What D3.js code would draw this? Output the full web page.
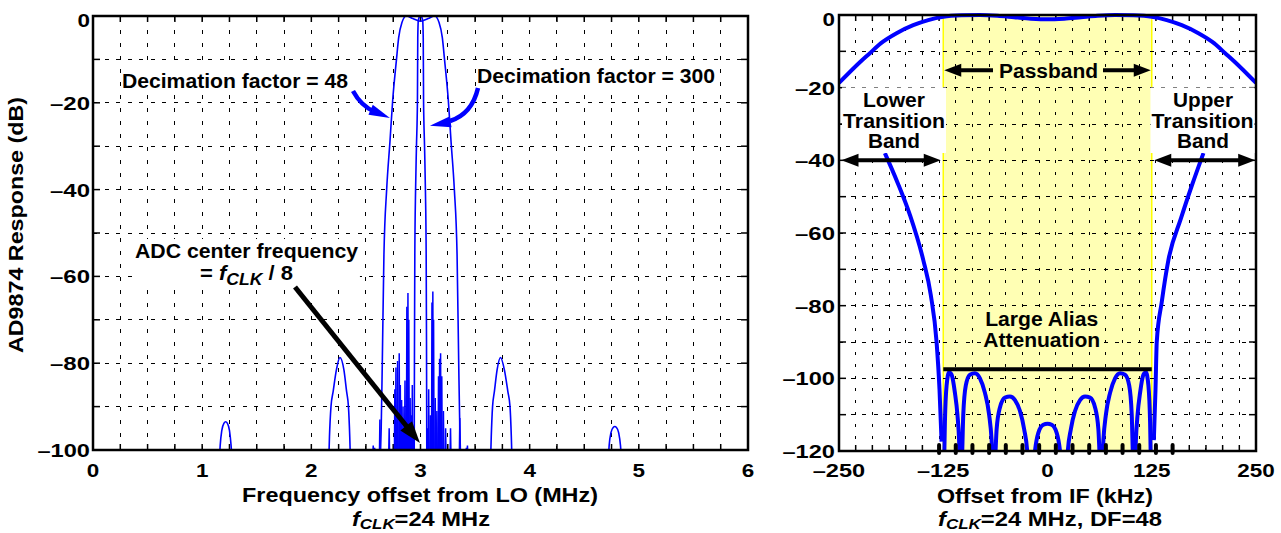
<!DOCTYPE html>
<html>
<head>
<meta charset="utf-8">
<script src="https://d3js.org/d3.v7.min.js"></script>
<style>
  body { margin: 0; background: #fff; }
  svg text { font-family: "Liberation Sans", Arial, Helvetica, sans-serif; font-weight: bold; fill: #000; }
</style>
</head>
<body>
<svg id="chart" width="1281" height="533"></svg>
<script>
// ---- left panel: full response for DF=48 and DF=300 (MHz, dB)
const leftXTicks = [0, 1, 2, 3, 4, 5, 6];
const leftYTicks = [0, -20, -40, -60, -80, -100];

const df48Lobe = [
  [2.63, -104], [2.64, -95], [2.65, -80], [2.665, -55], [2.69, -40], [2.72, -29], [2.745, -19.5],
  [2.78, -10], [2.80, -5], [2.83, -1.5], [2.87, 0], [2.93, -0.6], [3.0, -1.2], [3.07, -0.6],
  [3.13, 0], [3.17, -1.5], [3.20, -5], [3.22, -10], [3.255, -19.5], [3.28, -29], [3.31, -40],
  [3.335, -55], [3.35, -80], [3.36, -95], [3.37, -104]
];
const df300Lobe = [
  [2.942, -104], [2.945, -75], [2.948, -55], [2.955, -40], [2.963, -30], [2.972, -19.4],
  [2.975, -5], [2.98, -1], [2.99, -0.2], [3.0, 0], [3.01, -0.2], [3.02, -1], [3.025, -5],
  [3.028, -19.4], [3.037, -30], [3.045, -40], [3.052, -55], [3.055, -75], [3.058, -104]
];
const sideLobes = [
  [[1.155, -104], [1.165, -99], [1.18, -95.5], [1.2, -93.8], [1.215, -93.5], [1.23, -93.8], [1.25, -95.5], [1.265, -99], [1.277, -104]],
  [[2.158, -104], [2.166, -97], [2.18, -90], [2.2, -86.5], [2.23, -81.5], [2.262, -78.7], [2.298, -81.5], [2.323, -86.5], [2.34, -90], [2.352, -97], [2.36, -104]],
  [[3.64, -104], [3.648, -97], [3.66, -90], [3.677, -86.5], [3.702, -81.5], [3.733, -78.7], [3.768, -81.5], [3.8, -86.5], [3.82, -90], [3.832, -97], [3.84, -104]],
  [[4.718, -104], [4.728, -99], [4.745, -96], [4.765, -94.8], [4.78, -94.6], [4.795, -94.8], [4.815, -96], [4.832, -99], [4.845, -104]]
];
// alias spurs between the lobes: [MHz, peak dB]
const spurs = [
  [2.567, -99], [2.58, -99.5], [2.628, -93], [2.713, -95], [2.765, -86], [2.775, -81], [2.79, -79.5],
  [2.805, -77.7], [2.815, -85], [2.827, -88.5], [2.84, -90], [2.858, -84], [2.875, -67], [2.885, -63.8],
  [2.893, -70], [2.905, -88], [2.915, -92], [2.925, -85], [2.935, -95],
  [3.065, -95], [3.075, -86], [3.09, -92], [3.105, -66], [3.113, -63.5], [3.12, -70], [3.135, -88],
  [3.15, -91], [3.165, -83], [3.175, -79], [3.184, -77.7], [3.195, -83], [3.21, -91], [3.23, -95],
  [3.275, -95], [3.36, -92.6], [3.42, -99.5], [3.43, -99]
];

// ---- right panel: zoom around IF, DF=48 (kHz, dB)
const rightXTicks = [-250, -125, 0, 125, 250];
const rightYTicks = [0, -20, -40, -60, -80, -100, -120];
const passbandResp = [
  [-250, -18.7], [-225, -13], [-213, -10.5], [-200, -7.8], [-181, -5], [-161, -2.8], [-143, -1.4],
  [-125, -0.5], [-103, -0.1], [-81, 0], [-60, -0.2], [-40, -0.6], [-20, -1.0], [0, -1.2],
  [20, -1.0], [40, -0.6], [60, -0.2], [81, 0], [103, -0.1], [125, -0.5], [143, -1.4], [161, -2.8],
  [181, -5], [200, -7.8], [213, -10.5], [225, -13], [250, -18.7]
];
const aliasLeftSkirt = [
  [-195, -38], [-180, -46], [-165, -55], [-149, -67.4], [-140, -77], [-133, -90], [-129.5, -103], [-127, -117.4]
];
const aliasRightSkirt = [
  [127.5, -117], [129.5, -103], [131, -90], [137, -79], [145, -67.4], [160, -56], [173, -47], [187, -38]
];
const aliasLobes = [
  [-124, -124], [-123, -112], [-121, -102], [-118, -98.3], [-115, -99], [-111, -104], [-108, -110], [-106, -117], [-105, -124],
  [-103, -124], [-101, -110], [-98, -102], [-93, -99], [-87, -98.6], [-81, -100], [-75, -104], [-70, -110], [-67, -117], [-65.5, -124],
  [-63.5, -124], [-61, -114], [-57, -108], [-51, -105.3], [-45, -105], [-39, -106], [-33, -109], [-28, -114], [-24, -121], [-23, -125],
  [-17, -125], [-15, -120], [-11, -115], [-5, -112.8], [0, -112.5], [5, -112.8], [11, -115], [15, -120], [17, -125],
  [23, -125], [24, -121], [28, -114], [33, -109], [39, -106], [45, -105], [51, -105.3], [57, -108], [61, -114], [63.5, -124],
  [65.5, -124], [67, -117], [70, -110], [75, -104], [81, -100], [87, -98.6], [93, -99], [98, -102], [101, -110], [103, -124],
  [105, -124], [106, -117], [108, -110], [111, -104], [115, -99], [118, -98.3], [121, -102], [123, -112], [124, -124]
];
const passband = [-125, 125];
const aliasLevel = -97.5;
const boldTicks = d3.range(-130, 151, 20); // heavy tick marks on the bottom axis

const BLUE = '#0000ff';
const svg = d3.select('#chart');

const xL = d3.scaleLinear().domain([0, 6]).range([93, 748]);
const yL = d3.scaleLinear().domain([-100, 0]).range([450, 16]);
const xR = d3.scaleLinear().domain([-250, 250]).range([839, 1256]);
const yR = d3.scaleLinear().domain([-120, 0]).range([451, 15]);

function txt(g, x, y, s, o = {}) {
  const t = g.append('text')
    .attr('x', x).attr('y', y)
    .attr('font-size', o.size || 19)
    .attr('text-anchor', o.anchor || 'middle')
    .text(s);
  if (o.w) t.attr('textLength', o.w).attr('lengthAdjust', 'spacingAndGlyphs');
  if (o.rotate) t.attr('transform', `rotate(-90,${x},${y})`);
  return t;
}

// tick label text: wide dash for negatives, width matched to the original lettering
const fmt = v => (v < 0 ? '\u2013' : '') + Math.abs(v);
const tickW = v => String(Math.abs(v)).length * 12.5 + (v < 0 ? 15 : 0);

// background box behind a group of text lines
function box(g, texts, fill, pad = 2) {
  const bb = texts.map(t => t.node().getBBox());
  const x0 = d3.min(bb, b => b.x) - pad, x1 = d3.max(bb, b => b.x + b.width) + pad;
  const y0 = d3.min(bb, b => b.y) - pad, y1 = d3.max(bb, b => b.y + b.height) + pad;
  g.insert('rect', 'text').attr('x', x0).attr('y', y0).attr('width', x1 - x0).attr('height', y1 - y0).attr('fill', fill);
}

function head(g, x1, y1, x2, y2, len, w, color) {
  const a = Math.atan2(y2 - y1, x2 - x1);
  const bx = x2 - len * Math.cos(a), by = y2 - len * Math.sin(a);
  const px = -Math.sin(a) * w / 2, py = Math.cos(a) * w / 2;
  g.append('path')
    .attr('d', `M${x2},${y2}L${bx + px},${by + py}L${bx - px},${by - py}Z`)
    .attr('fill', color);
}

function panel(x, y, xGrid, yGrid, clipId, dashV, dashH) {
  const g = svg.append('g');
  const [xa, xb] = x.range(), [ya, yb] = y.range();
  svg.append('clipPath').attr('id', clipId)
    .append('rect').attr('x', xa).attr('y', yb - 3).attr('width', xb - xa).attr('height', ya - yb + 3);
  g.append('g').attr('class', 'under');
  const grid = g.append('g').attr('stroke', '#000').attr('stroke-width', 1).attr('shape-rendering', 'crispEdges');
  grid.selectAll('.gv').data(xGrid).join('line')
    .attr('x1', d => x(d)).attr('x2', d => x(d)).attr('y1', ya).attr('y2', yb)
    .attr('stroke-dasharray', dashV);
  grid.selectAll('.gh').data(yGrid).join('line')
    .attr('x1', xa).attr('x2', xb).attr('y1', d => y(d)).attr('y2', d => y(d))
    .attr('stroke-dasharray', dashH);
  const ticks = g.append('g').attr('stroke', '#000').attr('stroke-width', 1.5);
  xGrid.forEach(d => {
    ticks.append('line').attr('x1', x(d)).attr('x2', x(d)).attr('y1', ya).attr('y2', ya - 6);
    ticks.append('line').attr('x1', x(d)).attr('x2', x(d)).attr('y1', yb).attr('y2', yb + 6);
  });
  yGrid.forEach(d => {
    ticks.append('line').attr('x1', xa).attr('x2', xa + 7).attr('y1', y(d)).attr('y2', y(d));
    ticks.append('line').attr('x1', xb).attr('x2', xb - 7).attr('y1', y(d)).attr('y2', y(d));
  });
  const plot = g.append('g').attr('clip-path', `url(#${clipId})`);
  g.append('rect').attr('x', xa).attr('y', yb).attr('width', xb - xa).attr('height', ya - yb)
    .attr('fill', 'none').attr('stroke', '#000').attr('stroke-width', 2.5);
  return { g, plot, under: g.select('.under') };
}

function fclk(g, x, y, rest, w) {
  const t = g.append('text').attr('x', x).attr('y', y).attr('text-anchor', 'middle').attr('font-size', 21);
  t.append('tspan').attr('font-style', 'italic').text('f');
  t.append('tspan').attr('font-style', 'italic').attr('font-size', 15).attr('dy', 3).text('CLK');
  t.append('tspan').attr('dy', -3).text(rest);
  t.attr('textLength', w).attr('lengthAdjust', 'spacingAndGlyphs');
  return t;
}

// ================= left panel =================
const L = panel(xL, yL, d3.range(0.25, 6, 0.25), d3.range(-90, 0, 10), 'clipL', '4,9', '4,7.5');
const lineL = d3.line().x(d => xL(d[0])).y(d => yL(d[1])).curve(d3.curveMonotoneX);

[df48Lobe, df300Lobe, ...sideLobes].forEach(s => {
  L.plot.append('path').attr('d', lineL(s)).attr('fill', 'none').attr('stroke', BLUE).attr('stroke-width', 1.6);
});
L.plot.selectAll('.spur').data(spurs).join('path')
  .attr('d', d => d3.line()([[xL(d[0] - 0.004), yL(-101)], [xL(d[0]), yL(d[1])], [xL(d[0] + 0.004), yL(-101)]]))
  .attr('fill', BLUE).attr('stroke', BLUE).attr('stroke-width', 1.5);

const axL = svg.append('g');
leftXTicks.forEach(t => txt(axL, xL(t), 477, fmt(t), { size: 19, w: tickW(t) }));
leftYTicks.forEach(t => txt(axL, 90, Math.max(yL(t), 20) + 7, fmt(t), { size: 19, anchor: 'end', w: tickW(t) }));
txt(axL, 23, 225, 'AD9874 Response (dB)', { size: 21, w: 256, rotate: true });
txt(axL, 420, 502, 'Frequency offset from LO (MHz)', { size: 21, w: 356 });
fclk(axL, 421, 526, '=24 MHz', 138);

// annotations, left
const annL = svg.append('g');
const d48 = txt(annL, 235, 88, 'Decimation factor = 48', { size: 20, w: 226 });
box(annL, [d48], '#fff', 1);
const d300 = txt(annL, 596, 83, 'Decimation factor = 300', { size: 20, w: 238 });
box(annL, [d300], '#fff', 1);

const adc = svg.append('g');
const adc1 = txt(adc, 246.5, 258, 'ADC center frequency', { size: 20, w: 223 });
const adc2 = adc.append('text').attr('x', 200).attr('y', 280).attr('font-size', 20);
adc2.append('tspan').text('= ');
adc2.append('tspan').attr('font-style', 'italic').attr('font-size', 20).text('f');
adc2.append('tspan').attr('font-style', 'italic').attr('font-size', 16).attr('dy', 5).text('CLK');
adc2.append('tspan').attr('dy', -5).text(' / 8');
adc2.attr('textLength', 93).attr('lengthAdjust', 'spacingAndGlyphs');
box(adc, [adc1, adc2], '#fff', 1);

// blue curved arrows
const arrows = svg.append('g');
arrows.append('path').attr('d', 'M353,91 Q361,106 375,112')
  .attr('fill', 'none').attr('stroke', BLUE).attr('stroke-width', 4.5);
head(arrows, 370, 109.5, xL(2.72), yL(-23.5), 21, 11, BLUE);
arrows.append('path').attr('d', 'M478,88 Q472,114 450,121')
  .attr('fill', 'none').attr('stroke', BLUE).attr('stroke-width', 4.5);
head(arrows, 452, 121.5, xL(3.086), yL(-25.3), 21, 11, BLUE);
// black arrow to ADC centre frequency
arrows.append('line').attr('x1', 295).attr('y1', 287).attr('x2', 408).attr('y2', 428)
  .attr('stroke', '#000').attr('stroke-width', 5);
head(arrows, 295, 287, xL(2.995), yL(-98.4), 22, 15, '#000');

// ================= right panel =================
const R = panel(xR, yR, d3.range(-230, 250, 20), d3.range(-110, 0, 10), 'clipR', '3,9', '4,7.5');
R.under.append('rect')
  .attr('x', xR(passband[0])).attr('y', yR(0)).attr('width', xR(passband[1]) - xR(passband[0])).attr('height', yR(-120) - yR(0))
  .attr('fill', '#ffffb4');
passband.forEach(p => R.under.append('line').attr('x1', xR(p)).attr('x2', xR(p)).attr('y1', yR(0)).attr('y2', yR(-120))
  .attr('stroke', '#ffff00').attr('stroke-width', 1.5));

const lineR = d3.line().x(d => xR(d[0])).y(d => yR(d[1])).curve(d3.curveMonotoneX);
[passbandResp, aliasLeftSkirt, aliasLobes, aliasRightSkirt].forEach(s => {
  R.plot.append('path').attr('d', lineR(s)).attr('fill', 'none').attr('stroke', BLUE).attr('stroke-width', 4);
});

R.g.append('line').attr('x1', xR(passband[0])).attr('x2', xR(passband[1])).attr('y1', yR(aliasLevel)).attr('y2', yR(aliasLevel))
  .attr('stroke', '#000').attr('stroke-width', 4);
R.g.selectAll('.bt').data(boldTicks).join('line')
  .attr('x1', d => xR(d)).attr('x2', d => xR(d)).attr('y1', yR(-120) + 2).attr('y2', yR(-120) - 6)
  .attr('stroke', '#000').attr('stroke-width', 4).attr('stroke-linecap', 'round');

const axR = svg.append('g');
rightXTicks.forEach(t => txt(axR, xR(t), 477, fmt(t), { size: 19, w: tickW(t) }));
rightYTicks.forEach(t => txt(axR, 835, Math.max(yR(t), 19) + 7, fmt(t), { size: 19, anchor: 'end', w: tickW(t) }));
txt(axR, 1045, 503, 'Offset from IF (kHz)', { size: 21, w: 216 });
fclk(axR, 1050, 526, '=24 MHz, DF=48', 224);

// annotations, right
const annR = svg.append('g');
const pb = txt(annR, 1048.5, 78, 'Passband', { size: 20, w: 99 });
box(annR, [pb], '#ffffb4', 2);
const yp = yR(-15.2);
annR.append('line').attr('x1', xR(-125) + 12).attr('x2', 993).attr('y1', yp).attr('y2', yp).attr('stroke', '#000').attr('stroke-width', 4);
head(annR, 993, yp, xR(-125) + 1, yp, 17, 13, '#000');
annR.append('line').attr('x1', 1103).attr('x2', xR(125) - 13).attr('y1', yp).attr('y2', yp).attr('stroke', '#000').attr('stroke-width', 4);
head(annR, 1103, yp, xR(125) - 1, yp, 17, 13, '#000');

const lt = [
  txt(annR, 894, 106.5, 'Lower', { size: 20, w: 62 }),
  txt(annR, 894, 127.5, 'Transition', { size: 20, w: 102 }),
  txt(annR, 894, 148, 'Band', { size: 20, w: 52 })
];
box(annR, lt, '#fff', 1);
const ut = [
  txt(annR, 1203, 106.5, 'Upper', { size: 20, w: 60 }),
  txt(annR, 1202.5, 127.5, 'Transition', { size: 20, w: 102 }),
  txt(annR, 1203, 148, 'Band', { size: 20, w: 52 })
];
box(annR, ut, '#fff', 1);

function dbl(xa, xb, y) {
  annR.append('line').attr('x1', xa + 12).attr('x2', xb - 12).attr('y1', y).attr('y2', y).attr('stroke', '#000').attr('stroke-width', 4);
  head(annR, xb, y, xa, y, 17, 13, '#000');
  head(annR, xa, y, xb, y, 17, 13, '#000');
}
dbl(xR(-247), xR(-128), yR(-40));
dbl(xR(128), xR(249), yR(-40));

const la = [
  txt(annR, 1041.7, 326, 'Large Alias', { size: 20, w: 113 }),
  txt(annR, 1041.7, 347, 'Attenuation', { size: 20, w: 117 })
];
box(annR, la, '#ffffb4', 1);
</script>
</body>
</html>
